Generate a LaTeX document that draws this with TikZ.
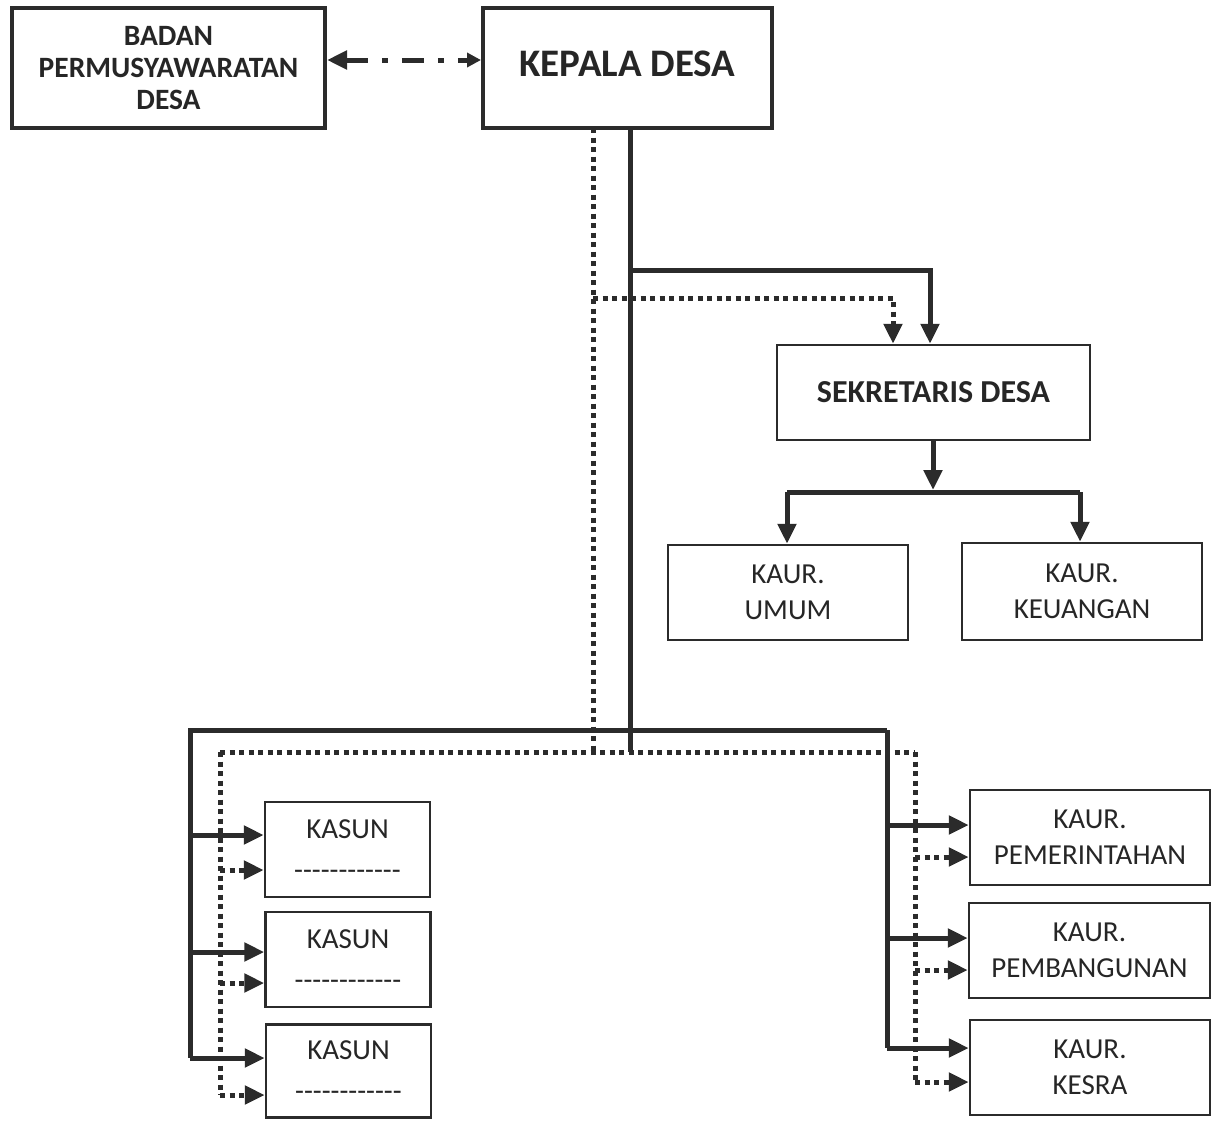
\documentclass[tikz,border=0pt]{standalone}
\usepackage{fontspec}
\setmainfont{Carlito}
\usetikzlibrary{arrows.meta}
\definecolor{ink}{HTML}{2B2B2B}
\definecolor{txt}{HTML}{262626}
\newcommand\hh{-\kern0pt}
\newcommand\hyl{\hh\hh\hh\hh\hh\hh\hh\hh\hh\hh\hh\hh}
\tikzset{
  bigbox/.style={draw=ink, line width=4pt, inner sep=0pt, align=center, text=txt, font=\bfseries},
  box/.style={draw=ink, line width=2.5pt, inner sep=0pt, align=center, text=txt},
  sl/.style={draw=ink, line width=5pt},
  dl/.style={draw=ink, line width=5pt, dash pattern=on 5pt off 4.5pt},
  tip/.style={-{Triangle[length=20pt,width=18pt]}},
  lbl/.style={font=\fontsize{29}{36}\selectfont},
}
\begin{document}
\begin{tikzpicture}[x=1pt,y=-1pt]
\useasboundingbox (0,0) rectangle (1213,1120);
% boxes
\node[bigbox, minimum width=313, minimum height=120, font=\bfseries\fontsize{29.5}{32}\selectfont] (bpd) at (168.5,68) {BADAN\\PERMUSYAWARATAN\\DESA};
\node[bigbox, minimum width=289, minimum height=120, font=\bfseries\fontsize{39}{44}\selectfont] (kd) at (627.5,68) {\raisebox{8pt}{KEPALA DESA}};
\node[box, minimum width=313, minimum height=95, font=\bfseries\fontsize{32}{36}\selectfont] (sek) at (933.5,392.5) {SEKRETARIS DESA};
\node[box, lbl, minimum width=240, minimum height=95] (umum) at (788,592.5) {KAUR.\\UMUM};
\node[box, lbl, minimum width=240, minimum height=97] (keu) at (1082,591.5) {KAUR.\\KEUANGAN};
\node[box, lbl, minimum width=165, minimum height=95] (kas1) at (347.5,849.5) {KASUN\\[5pt]\hyl};
\node[box, lbl, minimum width=165, minimum height=95] (kas2) at (348,959.5) {KASUN\\[5pt]\hyl};
\node[box, lbl, minimum width=165, minimum height=93] (kas3) at (348.5,1071) {KASUN\\[5pt]\hyl};
\node[box, lbl, minimum width=240, minimum height=95] (pem) at (1090,837.5) {KAUR.\\PEMERINTAHAN};
\node[box, lbl, minimum width=241, minimum height=95] (pmb) at (1089.5,950.5) {KAUR.\\PEMBANGUNAN};
\node[box, lbl, minimum width=240, minimum height=95] (kes) at (1090,1067.5) {KAUR.\\KESRA};
% coordinates
\coordinate (st) at (630,128);
\coordinate (sb) at (630,752);
\coordinate (sj) at (630,270);
\coordinate (sr) at (930,270);
\coordinate (hl) at (188,730);
\coordinate (hr) at (887,730);
\coordinate (lv) at (190,1058);
\coordinate (rv) at (887,1048);
\coordinate (dt) at (593,128);
\coordinate (db) at (593,752);
\coordinate (dj) at (593,298);
\coordinate (dr) at (893,298);
\coordinate (dl0) at (220,752);
\coordinate (dr0) at (915,752);
\coordinate (dlb) at (220,1095);
\coordinate (drb) at (915,1082);
\coordinate (sx) at (933,490);
\coordinate (kl) at (787,492);
\coordinate (kr) at (1080,492);
% BPD <-> KD
\draw[draw=ink, line width=5pt, dash pattern=on 22pt off 14pt on 6pt off 14pt,
  {Triangle[length=20pt,width=18pt]}-{Triangle[length=14pt,width=14pt]}] (bpd.east |- 0,60) -- (kd.west |- 0,60);
% solid lines
\draw[sl] (st) -- (sb);
\draw[sl, tip] (sj) -| (sek.north -| sr);
\draw[sl] (hl) -- (hr);
\draw[sl] (190,730) -- (lv);
\draw[sl] (hr) -- (rv);
\draw[sl, tip] (190,835) -- (kas1.west |- 0,835);
\draw[sl, tip] (190,952) -- (kas2.west |- 0,952);
\draw[sl, tip] (lv) -- (kas3.west |- lv);
\draw[sl, tip] (887,825) -- (pem.west |- 0,825);
\draw[sl, tip] (887,938) -- (pmb.west |- 0,938);
\draw[sl, tip] (rv) -- (kes.west |- rv);
% dotted lines
\draw[dl] (dt) -- (db);
\draw[dl, tip] (dj) -| (sek.north -| dr);
\draw[dl] (dl0) -- (dr0);
\draw[dl] (dl0) -- (dlb);
\draw[dl] (dr0) -- (drb);
\draw[dl, tip] (220,870) -- (kas1.west |- 0,870);
\draw[dl, tip] (220,983) -- (kas2.west |- 0,983);
\draw[dl, tip] (dlb) -- (kas3.west |- dlb);
\draw[dl, tip] (915,857) -- (pem.west |- 0,857);
\draw[dl, tip] (915,970) -- (pmb.west |- 0,970);
\draw[dl, tip] (drb) -- (kes.west |- drb);
% sekretaris to kaur
\draw[sl, tip] (sek.south -| sx) -- (sx);
\draw[sl] (kl) -- (kr);
\draw[sl, tip] (kl) -- (umum.north -| kl);
\draw[sl, tip] (kr) -- (keu.north -| kr);
\end{tikzpicture}
\end{document}
